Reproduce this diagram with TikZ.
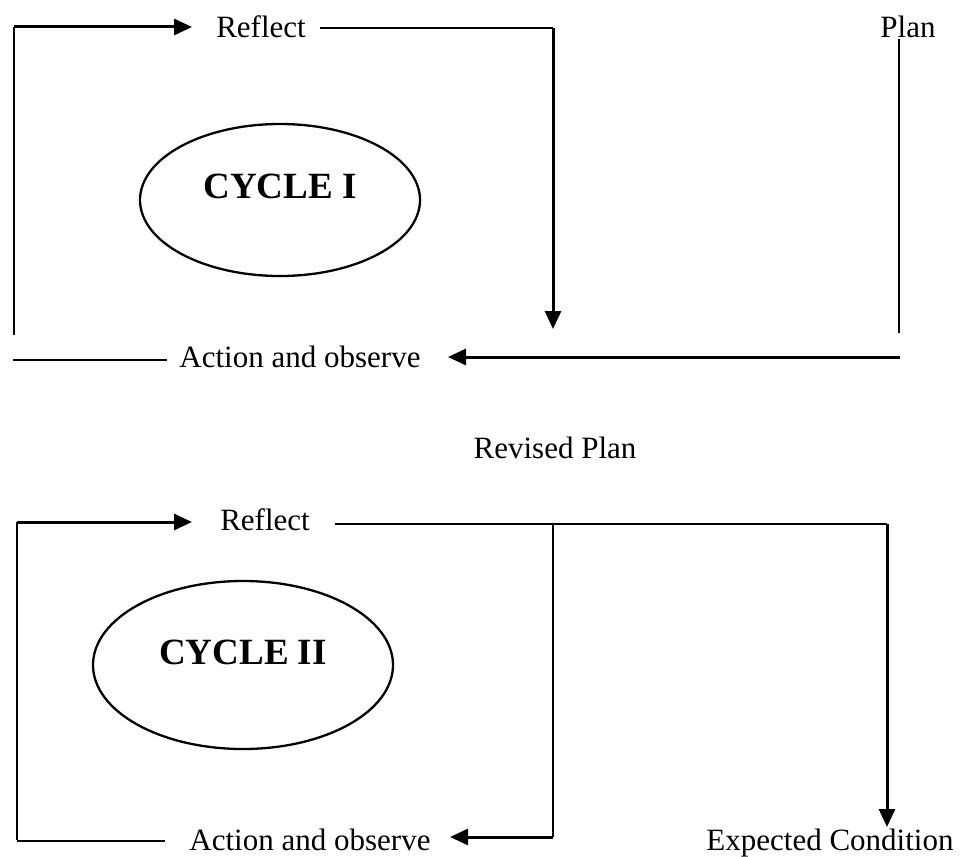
\documentclass[tikz,border=0pt]{standalone}
\usepackage{fontspec}
\setmainfont{Liberation Serif}
\usetikzlibrary{arrows.meta,shapes.geometric}
\begin{document}
\begin{tikzpicture}[x=1pt,y=-1pt,
  lbl/.style={inner sep=0pt,font=\fontsize{31}{36}\selectfont},
  big/.style={inner sep=0pt,font=\fontsize{37}{42}\selectfont\bfseries},
  ell/.style={draw,ellipse,line width=2.3pt,inner sep=0pt},
  ln/.style={line width=2.3pt},
  arr/.style={line width=3pt,-{Triangle[length=18pt,width=16pt]}}]
\useasboundingbox (0,0) rectangle (965,856);
% top section
\node[lbl] (r1) at (261,27) {Reflect};
\node[lbl] (pl) at (908,27) {Plan};
\node[lbl] (a1) at (300,357) {Action and observe};
\node[ell,minimum width=280pt,minimum height=152pt] (e1) at (280,200) {};
\node[big] (c1) at (280,186) {CYCLE I};
\coordinate (tl1) at (14,27);
\coordinate (bl1) at (14,335);
\coordinate (ta1) at (192,27);
\coordinate (rs1) at (320,28);
\coordinate (rc1) at (553,28);
\coordinate (rd1) at (553,329);
\coordinate (pt1) at (899,39);
\coordinate (pb1) at (899,333);
\coordinate (hr1) at (900,357);
\coordinate (hl1) at (448,357);
\coordinate (ll1) at (13,360);
\coordinate (lr1) at (167,360);
\draw[ln] (bl1) -- (tl1);
\draw[arr] (tl1) -- (ta1);
\draw[ln] (rs1) -- (rc1);
\draw[arr] (rc1) -- (rd1);
\draw[ln] (pt1) -- (pb1);
\draw[arr] (hr1) -- (hl1);
\draw[ln] (ll1) -- (lr1);
% middle
\node[lbl] (rp) at (555,448) {Revised Plan};
% bottom section
\node[lbl] (r2) at (265,520) {Reflect};
\node[lbl] (a2) at (310,840) {Action and observe};
\node[lbl] (ec) at (830,843) {Expected Condition};
\node[ell,minimum width=300pt,minimum height=168pt] (e2) at (243,665) {};
\node[big] (c2) at (243,652) {CYCLE II};
\coordinate (tl2) at (17,522);
\coordinate (bl2) at (17,840);
\coordinate (ta2) at (192,522);
\coordinate (rs2) at (335,524);
\coordinate (rm2) at (553,524);
\coordinate (rc2) at (887,524);
\coordinate (rd2) at (887,827);
\coordinate (mb2) at (553,837);
\coordinate (hl2) at (450,837);
\coordinate (ll2) at (17,841);
\coordinate (lr2) at (165,841);
\draw[ln] (bl2) -- (tl2);
\draw[arr] (tl2) -- (ta2);
\draw[ln] (rs2) -- (rc2);
\draw[arr] (rc2) -- (rd2);
\draw[ln] (rm2) -- (mb2);
\draw[arr] (mb2) -- (hl2);
\draw[ln] (ll2) -- (lr2);
\end{tikzpicture}
\end{document}
